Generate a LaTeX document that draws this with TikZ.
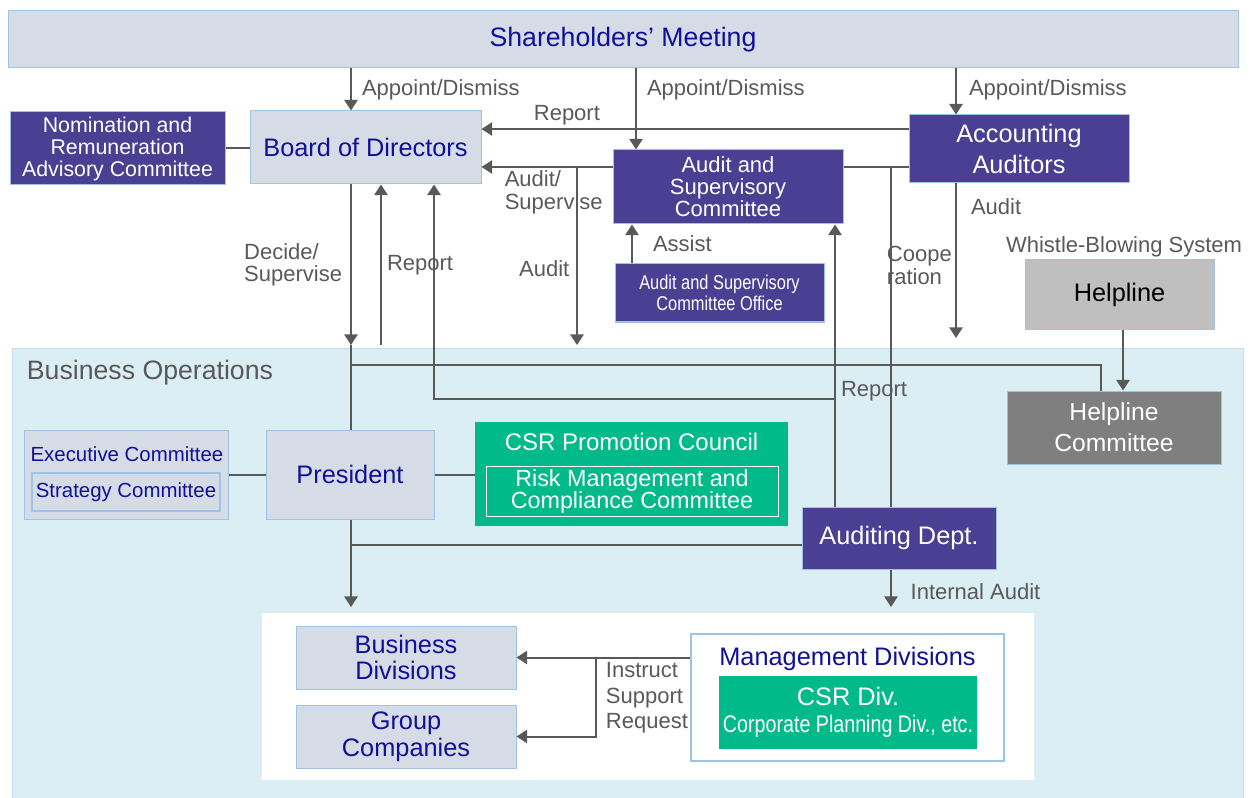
\documentclass[tikz,border=0pt]{standalone}
\usepackage{fontspec}
\setmainfont{Liberation Sans}
\newfontfamily\narrowfont[FakeStretch=0.82]{Liberation Sans}
\usetikzlibrary{arrows.meta}
\definecolor{boxgray}{HTML}{D6DCE5}
\definecolor{edgeblue}{HTML}{9DC3E6}
\definecolor{navytxt}{HTML}{10109A}
\definecolor{purp}{HTML}{4B3F94}
\definecolor{csrgreen}{HTML}{00BA8A}
\definecolor{opsbg}{HTML}{DAEEF3}
\definecolor{opsedge}{HTML}{C4DDE8}
\definecolor{linegray}{HTML}{595959}
\definecolor{hlgray}{HTML}{BFBFBF}
\definecolor{hcgray}{HTML}{7F7F7F}
\tikzset{
  wh/.style 2 args={minimum width=#1*0.75pt, minimum height=#2*0.75pt},
  box/.style={draw=edgeblue, line width=0.75pt, inner sep=0pt, align=center},
  graybox/.style={box, fill=boxgray, text=navytxt},
  purpbox/.style={box, fill=purp, text=white},
  greenbox/.style={box, fill=csrgreen, text=white, draw=none},
  lbl/.style={text=linegray, inner sep=2pt, align=left, font=\fontsize{16.5}{17}\selectfont},
  conn/.style={draw=linegray, line width=1.5pt},
  arr/.style={-{Triangle[width=10pt,length=8pt]}},
}
\begin{document}
\begin{tikzpicture}[x=0.75pt,y=-0.75pt]
\useasboundingbox (0,0) rectangle (1255,798);
% areas
\filldraw[fill=opsbg, draw=opsedge, line width=0.75pt] (12,348) rectangle (1243,799);
\fill[white] (262,613) rectangle (1034,780);
\node[text=linegray, anchor=west, inner sep=2pt, font=\fontsize{20}{24}\selectfont] (ops) at (24,373) {Business Operations};
% columns and rows of the connectors
\path (351,0) coordinate (c1) (381,0) coordinate (c2) (434,0) coordinate (c3) (577,0) coordinate (c4)
(636,0) coordinate (c5) (632,0) coordinate (c5b) (835,0) coordinate (c6) (891,0) coordinate (c7)
(956,0) coordinate (c8) (1101,0) coordinate (c9) (1123,0) coordinate (c10) (596,0) coordinate (c11);
\path (0,129) coordinate (rA) (0,167) coordinate (rB) (0,345) coordinate (rC) (0,338) coordinate (rC2)
(0,365) coordinate (rD) (0,399) coordinate (rE) (0,545) coordinate (rF) (0,607) coordinate (rG);
% boxes
\node[graybox, wh={1230}{57}, font=\fontsize{20}{24}\selectfont] (sh) at (623,39.5) {Shareholders’ Meeting};
\node[purpbox, wh={215}{73}, font=\fontsize{16}{16.5}\selectfont] (nom) at (117.5,148.5) {Nomination and\\Remuneration\\Advisory Committee};
\node[graybox, wh={231}{73}, font=\fontsize{19}{20}\selectfont] (bod) at (365.5,147.5) {Board of Directors};
\node[purpbox, wh={230}{74}, font=\fontsize{16.5}{16.5}\selectfont] (asc) at (728,187) {Audit and\\Supervisory\\Committee};
\node[purpbox, wh={220}{68}, font=\fontsize{19}{23}\selectfont] (acc) at (1019,149) {Accounting\\Auditors};
\node[purpbox, wh={209}{58}, font=\narrowfont\fontsize{15}{16}\selectfont] (office) at (719.5,293) {Audit and Supervisory\\Committee Office};
\node[lbl, font=\fontsize{16.5}{17}\selectfont] (wbs) at (1124,247) {Whistle-Blowing System};
\node[box, fill=hlgray, text=black, wh={189}{69}, font=\fontsize{19}{20}\selectfont] (help) at (1119.5,294.5) {Helpline};
\node[box, fill=hcgray, text=white, wh={214}{73}, font=\fontsize{18.5}{23}\selectfont] (hcom) at (1114,427.5) {Helpline\\Committee};
\node[graybox, wh={204}{89}] (exec) at (126,474.5) {};
\node[text=navytxt, inner sep=0pt, font=\fontsize{15.3}{16}\selectfont] (exectxt) at (127,454) {Executive Committee};
\node[graybox, line width=1.5pt, wh={188}{38}, font=\fontsize{15.3}{16}\selectfont] (strat) at (126,492) {Strategy Committee};
\node[graybox, wh={168}{89}, font=\fontsize{19}{20}\selectfont] (pres) at (350,474.5) {President};
\node[greenbox, wh={313}{104}] (csr) at (631.5,474) {};
\node[text=white, inner sep=0pt, font=\fontsize{18}{20}\selectfont] (csrtxt) at (631.5,442) {CSR Promotion Council};
\node[box, draw=white, text=white, wh={292}{50}, font=\fontsize{17.5}{16.5}\selectfont] (risk) at (632,491) {Risk Management and\\Compliance Committee};
\node[purpbox, wh={194}{62}, font=\fontsize{19}{20}\selectfont] (aud) at (899,538) {Auditing Dept.};
\node[graybox, wh={220}{63}, font=\fontsize{19}{20}\selectfont] (bdiv) at (406,657.5) {Business\\Divisions};
\node[graybox, wh={220}{63}, font=\fontsize{19}{20}\selectfont] (grp) at (406,736.5) {Group\\Companies};
\node[box, fill=white, line width=1.5pt, wh={313}{127}] (mgmt) at (847.5,697.5) {};
\node[text=navytxt, inner sep=0pt, font=\fontsize{19}{20}\selectfont] (mgmttxt) at (847.5,659) {Management Divisions};
\node[greenbox, wh={258}{73}, font=\fontsize{19}{20}\selectfont] (csrdiv) at (848,712.5) {CSR Div.\\\narrowfont\fontsize{18}{20}\selectfont Corporate Planning Div., etc.};
% connectors
\draw[conn,arr] (sh.south -| c1) -- node[lbl,midway,right,xshift=5.5pt]{Appoint/Dismiss} (bod.north -| c1);
\draw[conn,arr] (sh.south -| c5) -- node[lbl,pos=0.26,right,xshift=5.5pt]{Appoint/Dismiss} (asc.north -| c5);
\draw[conn,arr] (sh.south -| c8) -- node[lbl,pos=0.47,right,xshift=7pt]{Appoint/Dismiss} (acc.north -| c8);
\draw[conn,arr] (acc.west |- rA) -- node[lbl,pos=0.8,above]{Report} (bod.east |- rA);
\draw[conn,arr] (asc.west |- rB) -- node[lbl,pos=0.85,anchor=north west]{Audit/\\Supervise} (bod.east |- rB);
\draw[conn] (asc.east |- rB) -- (acc.west |- rB);
\draw[conn] (c7 |- rB) -- node[lbl,pos=0.29,anchor=west,xshift=-5.8pt]{Coope\\ration} (aud.north -| c7);
\draw[conn,arr] (acc.south -| c8) -- node[lbl,pos=0.15,right,xshift=8.5pt]{Audit} (c8 |- rC2);
\draw[conn,arr] (bod.south -| c1) -- node[lbl,midway,left,xshift=-4pt]{Decide/\\Supervise} (c1 |- rC);
\draw[conn] (c1 |- rC) -- (pres.north -| c1);
\draw[conn] (c1 |- rD) -- (c9 |- rD) -- (hcom.north -| c9);
\draw[conn,arr] (c2 |- rC) -- node[lbl,midway,right,xshift=1.75pt]{Report} (bod.south -| c2);
\draw[conn,arr] (aud.north -| c6) -- node[lbl,pos=0.41,right,xshift=1.75pt]{Report} (asc.south -| c6);
\draw[conn,arr] (c6 |- rE) -- (c3 |- rE) -- (bod.south -| c3);
\draw[conn,arr] (c4 |- rB) -- node[lbl,pos=0.57,left,xshift=-3pt]{Audit} (c4 |- rC);
\draw[conn,arr] (office.north -| c5b) -- node[lbl,midway,right,xshift=13pt]{Assist} (asc.south -| c5b);
\draw[conn,arr] (help.south -| c10) -- (hcom.north -| c10);
\draw[conn] (nom.east) -- (nom.east -| bod.west);
\draw[conn] (exec.east) -- (exec.east -| pres.west);
\draw[conn] (pres.east) -- (pres.east -| csr.west);
\draw[conn,arr] (pres.south -| c1) -- (c1 |- rG);
\draw[conn] (c1 |- rF) -- (aud.west |- rF);
\draw[conn,arr] (aud.south -| c7) -- node[lbl,pos=0.58,right,xshift=12pt]{Internal Audit} (c7 |- rG);
\draw[conn,arr] (mgmt.west |- bdiv.east) -- (bdiv.east);
\draw[conn,arr] (c11 |- bdiv.east) -- (c11 |- grp.east) -- (grp.east);
\node[lbl, anchor=west, font=\fontsize{16.5}{19}\selectfont] (isr) at (603,698) {Instruct\\Support\\Request};
\end{tikzpicture}
\end{document}
